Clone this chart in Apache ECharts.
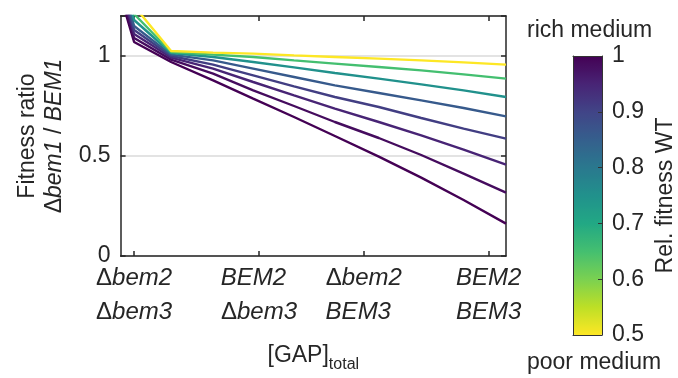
<!DOCTYPE html>
<html>
<head>
<meta charset="utf-8">
<script src="https://cdn.jsdelivr.net/npm/echarts@6/dist/echarts.min.js"></script>
<style>
  html, body { margin: 0; padding: 0; background: #fff; }
  #main { width: 678px; height: 378px; }
</style>
</head>
<body>
<div id="main"></div>
<script>
// x positions of the samples along [GAP]total (arbitrary units, 0..100)
const gapX = [0, 3.5, 13.1, 24, 34.4, 45, 55.6, 67, 78, 89, 100];

// genotype tick marks on the x axis
const tickX = [3.5, 35.9, 63.1, 95.5];
const tickLine1 = ['Δbem2', 'BEM2', 'Δbem2', 'BEM2'];
const tickLine2 = ['Δbem3', 'Δbem3', 'BEM3', 'BEM3'];

// relative fitness of WT for each curve (colour value)
const wtFitness = [1.0, 0.985, 0.95, 0.91, 0.86, 0.75, 0.65, 0.5];

// fitness ratio bem1 / BEM1, one array per curve
const ratio100 = [1.30, 1.07, 0.970, 0.878, 0.787, 0.695, 0.600, 0.497, 0.392, 0.280, 0.162];
const ratio098 = [1.33, 1.09, 0.982, 0.912, 0.828, 0.750, 0.670, 0.590, 0.505, 0.412, 0.317];
const ratio095 = [1.35, 1.11, 0.992, 0.937, 0.870, 0.803, 0.737, 0.670, 0.603, 0.532, 0.457];
const ratio091 = [1.37, 1.13, 1.000, 0.957, 0.903, 0.848, 0.795, 0.745, 0.690, 0.637, 0.587];
const ratio086 = [1.39, 1.15, 1.007, 0.978, 0.937, 0.895, 0.853, 0.815, 0.778, 0.740, 0.698];
const ratio075 = [1.42, 1.18, 1.015, 0.995, 0.970, 0.943, 0.915, 0.887, 0.858, 0.828, 0.795];
const ratio065 = [1.45, 1.21, 1.020, 1.007, 0.995, 0.978, 0.962, 0.945, 0.928, 0.908, 0.887];
const ratio050 = [1.50, 1.25, 1.025, 1.017, 1.012, 1.003, 0.995, 0.987, 0.978, 0.968, 0.957];
const ratios = [ratio100, ratio098, ratio095, ratio091, ratio086, ratio075, ratio065, ratio050];

const viridisStops = ['#440154', '#482475', '#414487', '#355f8d', '#2a788e', '#21918c',
  '#22a884', '#44bf70', '#7ad151', '#bddf26', '#fde725'];

const FONT = '"Liberation Sans", Arial, Helvetica, sans-serif';
const INK = '#262626';
const TICK_FS = 24;

function hex2rgb(h) {
  return [parseInt(h.slice(1, 3), 16), parseInt(h.slice(3, 5), 16), parseInt(h.slice(5, 7), 16)];
}
function viridis(t) {
  t = Math.max(0, Math.min(1, t));
  const p = t * (viridisStops.length - 1);
  const i = Math.min(Math.floor(p), viridisStops.length - 2);
  const f = p - i;
  const a = hex2rgb(viridisStops[i]), b = hex2rgb(viridisStops[i + 1]);
  const c = a.map((v, k) => Math.round(v + (b[k] - v) * f));
  return 'rgb(' + c.join(',') + ')';
}
// colorbar: yellow at 0.5, purple at 1
const colorOf = v => viridis((1 - v) / 0.5);

// measure label lines so the two lines of a tick label are left aligned
const ctx = document.createElement('canvas').getContext('2d');
function textW(s) {
  let w = 0;
  if (s[0] === 'Δ') {
    ctx.font = TICK_FS + 'px ' + FONT;
    w += ctx.measureText('Δ').width;
    s = s.slice(1);
  }
  ctx.font = 'italic ' + TICK_FS + 'px ' + FONT;
  return w + ctx.measureText(s).width;
}
function richLine(s, width) {
  let out = s[0] === 'Δ' ? '{d|Δ}{i|' + s.slice(1) + '}' : '{i|' + s + '}';
  const pad = Math.round(width - textW(s));
  if (pad > 1) out += '{p' + pad + '|}';
  return out;
}
const labelRich = {
  d: { fontSize: TICK_FS, fontFamily: FONT, color: INK, lineHeight: 34 },
  i: { fontSize: TICK_FS, fontFamily: FONT, fontStyle: 'italic', color: INK, lineHeight: 34 }
};
const tickLabels = tickX.map((x, k) => {
  const w = Math.max(textW(tickLine1[k]), textW(tickLine2[k]));
  [tickLine1[k], tickLine2[k]].forEach(s => {
    const pad = Math.round(w - textW(s));
    if (pad > 1) labelRich['p' + pad] = { width: pad, lineHeight: 34 };
  });
  return richLine(tickLine1[k], w) + '\n' + richLine(tickLine2[k], w);
});

const series = ratios.map((arr, k) => ({
  type: 'line',
  xAxisIndex: 0,
  yAxisIndex: 0,
  data: gapX.map((x, j) => [x, arr[j]]),
  symbol: 'none',
  lineStyle: { color: colorOf(wtFitness[k]), width: 2.4 },
  itemStyle: { color: colorOf(wtFitness[k]) },
  clip: true,
  silent: true
}));

const boxLine = { show: true, onZero: false, lineStyle: { color: INK, width: 1.5 } };
const barLine = { show: true, onZero: false, lineStyle: { color: '#333', width: 1 } };

const option = {
  animation: false,
  backgroundColor: '#fff',
  textStyle: { fontFamily: FONT, color: INK },
  grid: [
    { left: 120.6, right: 172, top: 16, bottom: 120 },
    { left: 573, width: 30, top: 56, height: 279 }
  ],
  xAxis: [
    {
      type: 'value', gridIndex: 0, min: 0, max: 100, position: 'bottom',
      axisLine: boxLine,
      axisTick: { show: true, inside: true, length: 5, customValues: tickX, lineStyle: { color: INK, width: 1.5 } },
      axisLabel: {
        customValues: tickX, margin: 5, color: INK, fontSize: TICK_FS,
        formatter: v => {
          let k = 0;
          tickX.forEach((t, j) => { if (Math.abs(t - v) < Math.abs(tickX[k] - v)) k = j; });
          return tickLabels[k];
        },
        rich: labelRich
      },
      splitLine: { show: false },
      name: '{m|[GAP]}{s|total}',
      nameLocation: 'middle',
      nameGap: 88,
      nameTextStyle: {
        rich: {
          m: { fontSize: 23, fontFamily: FONT, color: INK, verticalAlign: 'top', lineHeight: 26 },
          s: { fontSize: 16, fontFamily: FONT, color: INK, verticalAlign: 'top', lineHeight: 18, padding: [13, 0, 0, 0] }
        }
      }
    },
    {
      type: 'value', gridIndex: 0, min: 0, max: 100, position: 'top',
      axisLine: boxLine,
      axisTick: { show: true, inside: true, length: 5, customValues: tickX, lineStyle: { color: INK, width: 1.5 } },
      axisLabel: { show: false },
      splitLine: { show: false }
    },
    {
      type: 'value', gridIndex: 1, min: 0, max: 1, position: 'bottom', z: 10,
      axisLine: barLine,
      axisTick: { show: false }, axisLabel: { show: false }, splitLine: { show: false }
    },
    {
      type: 'value', gridIndex: 1, min: 0, max: 1, position: 'top', z: 10,
      axisLine: barLine,
      axisTick: { show: false }, axisLabel: { show: false }, splitLine: { show: false }
    }
  ],
  yAxis: [
    {
      type: 'value', gridIndex: 0, min: 0, max: 1.2, interval: 0.5, position: 'left',
      axisLine: boxLine,
      axisTick: { show: true, inside: true, length: 5, lineStyle: { color: INK, width: 1.5 } },
      axisLabel: { color: INK, fontSize: 23, margin: 10, formatter: v => (v > 1.1 ? '' : String(v)) },
      splitLine: { show: true, lineStyle: { color: '#e3e3e3', width: 2 } },
      name: 'Fitness ratio\n{d|Δ}{i|bem1}{n| / }{i|BEM1}',
      nameLocation: 'middle',
      nameRotate: 90,
      nameGap: 52,
      nameTextStyle: {
        fontSize: 23, color: INK, lineHeight: 27,
        rich: {
          d: { fontSize: 23, fontFamily: FONT, color: INK, lineHeight: 27 },
          n: { fontSize: 23, fontFamily: FONT, color: INK, lineHeight: 27 },
          i: { fontSize: 23, fontFamily: FONT, fontStyle: 'italic', color: INK, lineHeight: 27 }
        }
      }
    },
    {
      type: 'value', gridIndex: 0, min: 0, max: 1.2, interval: 0.5, position: 'right',
      axisLine: boxLine,
      axisTick: { show: true, inside: true, length: 5, lineStyle: { color: INK, width: 1.5 } },
      axisLabel: { show: false },
      splitLine: { show: false }
    },
    {
      type: 'value', gridIndex: 1, min: 0.5, max: 1, interval: 0.1, position: 'right', z: 10,
      axisLine: barLine,
      axisTick: { show: true, inside: true, length: 4, lineStyle: { color: '#333', width: 1 } },
      axisLabel: { color: INK, fontSize: 23, margin: 10, formatter: v => String(Math.round(v * 10) / 10) },
      splitLine: { show: false },
      name: 'Rel. fitness WT',
      nameLocation: 'middle',
      nameRotate: 90,
      nameGap: 52,
      nameTextStyle: { fontSize: 23, color: INK }
    },
    {
      type: 'value', gridIndex: 1, min: 0.5, max: 1, position: 'left', z: 10,
      axisLine: barLine,
      axisTick: { show: false }, axisLabel: { show: false }, splitLine: { show: false }
    }
  ],
  visualMap: {
    type: 'continuous',
    min: 0.5, max: 1,
    seriesIndex: ratios.length,
    orient: 'vertical',
    left: 573, top: 56,
    padding: 0,
    itemWidth: 30, itemHeight: 279,
    calculable: false,
    showLabel: false,
    inRange: { color: viridisStops.slice().reverse() }
  },
  graphic: [
    { type: 'text', left: 527, top: 19, style: { text: 'rich medium', fontSize: 23, fontFamily: FONT, fill: INK } },
    { type: 'text', left: 527, top: 351, style: { text: 'poor medium', fontSize: 23, fontFamily: FONT, fill: INK } }
  ],
  series: series.concat([{
    type: 'scatter', xAxisIndex: 2, yAxisIndex: 2, data: [], silent: true
  }])
};

const chart = echarts.init(document.getElementById('main'), null, { renderer: 'canvas' });
chart.setOption(option);
</script>
</body>
</html>
